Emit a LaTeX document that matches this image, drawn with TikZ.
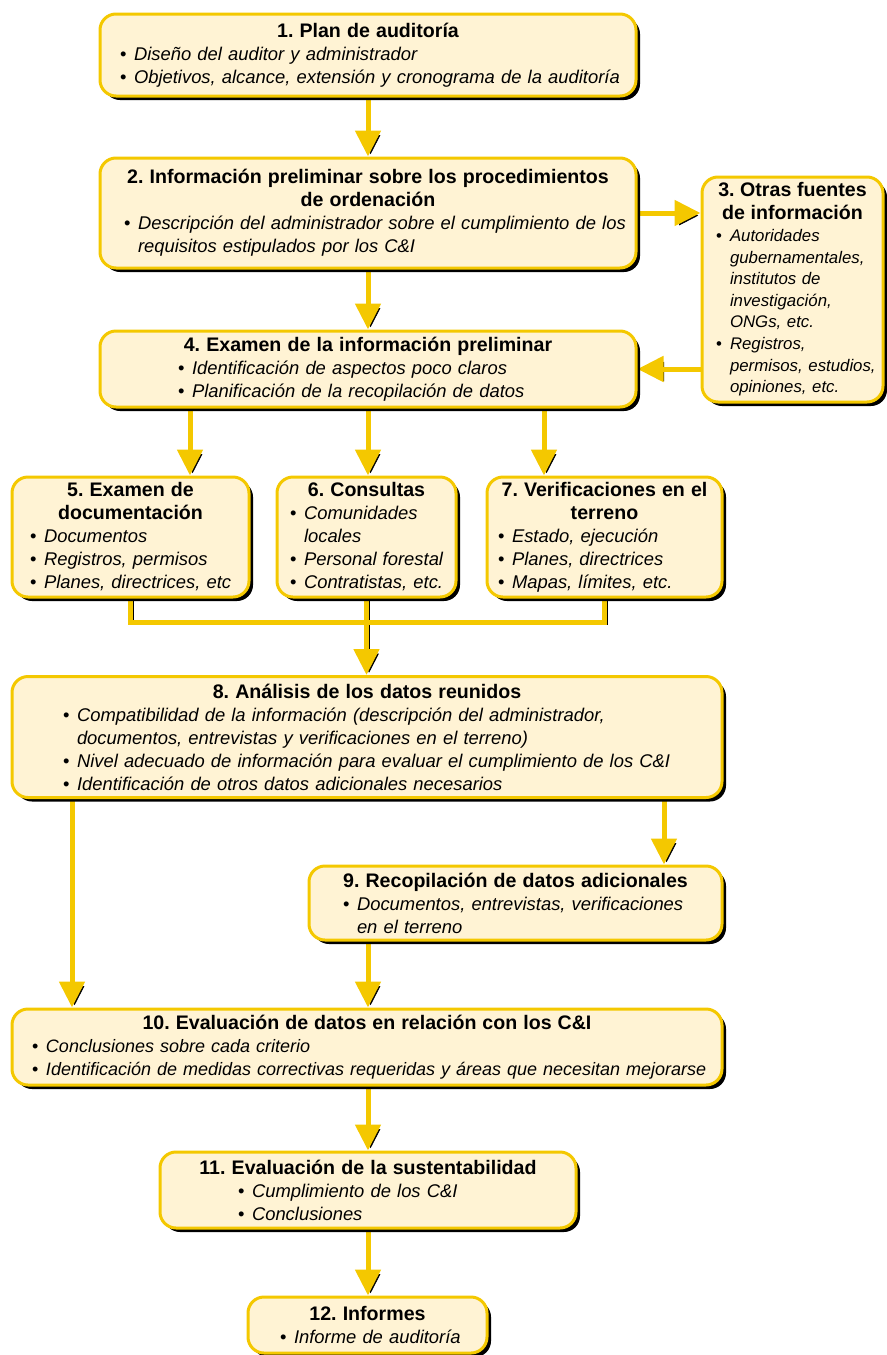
\documentclass[tikz,border=0pt]{standalone}
\usepackage{fontspec}
\setmainfont{Liberation Sans}
\usetikzlibrary{arrows.meta, shadows, backgrounds}
\definecolor{boxfill}{RGB}{255,243,212}
\definecolor{goldline}{RGB}{244,200,0}
\setlength{\parindent}{0pt}
\frenchspacing
% title line and bullet lines inside the boxes
\newcommand{\hd}[1]{{\centering\fontsize{9.8}{11.5}\selectfont\bfseries #1\par}}
\newcommand{\bul}[1]{\noindent\mbox{\makebox[7pt][l]{\textbullet}\textit{#1}}\par}
\newcommand{\cnt}[1]{\noindent\mbox{\hspace*{7pt}\textit{#1}}\par}

\begin{document}
\begin{tikzpicture}[x=0.5pt, y=-0.5pt,
  box/.style={draw=goldline, fill=boxfill, line width=1.5pt, rounded corners=8pt,
              inner xsep=0pt, inner ysep=2pt, align=left,
              font=\fontsize{9.2}{11.5}\selectfont,
              drop shadow={shadow xshift=2pt, shadow yshift=-2pt, fill=black, opacity=1}},
  flow/.style={draw=goldline, line width=2.5pt, -{Triangle[length=13pt, width=12.5pt]},
               preaction={draw=black, transform canvas={xshift=1.3pt, yshift=-1.3pt}}},
]
\useasboundingbox (0,0) rectangle (887,1355);

% columns and levels for the connectors
\coordinate (x5) at (190,0);
\coordinate (x7) at (544,0);
\coordinate (xl) at (72,0);
\coordinate (xr) at (664,0);
\coordinate (jn) at (0,622);

\node[box, text width=268pt, minimum height=41pt] (plan) at (368,55)
  {\hd{1. Plan de auditoría}\leftskip=10pt
   \bul{Diseño del auditor y administrador}
   \bul{Objetivos, alcance, extensión y cronograma de la auditoría}};

\node[box, text width=268pt, minimum height=55pt] (prelim) at (368,213)
  {\hd{2. Información preliminar sobre los procedimientos\\de ordenación}\leftskip=12pt
   \bul{Descripción del administrador sobre el cumplimiento de los}
   \cnt{requisitos estipulados por los C\&I}};

\node[box, text width=90.5pt, minimum height=112.5pt,
      font=\fontsize{8.4}{10.8}\selectfont] (otras) at (792.5,289.5)
  {\hd{3. Otras fuentes\\de información}\leftskip=7pt
   \bul{Autoridades}
   \cnt{gubernamentales,}
   \cnt{institutos de}
   \cnt{investigación,}
   \cnt{ONGs, etc.}
   \bul{Registros,}
   \cnt{permisos, estudios,}
   \cnt{opiniones, etc.}};

\node[box, text width=268pt, minimum height=38pt] (examen) at (368,369)
  {\hd{4. Examen de la información preliminar}\leftskip=39pt
   \bul{Identificación de aspectos poco claros}
   \bul{Planificación de la recopilación de datos}};

\node[box, text width=118.5pt, minimum height=60pt] (docs) at (130.5,537)
  {\hd{5. Examen de\\documentación}\leftskip=9pt
   \bul{Documentos}
   \bul{Registros, permisos}
   \bul{Planes, directrices, etc}};

\node[box, text width=89.5pt, minimum height=60pt] (consultas) at (366.5,537)
  {\hd{6. Consultas}\leftskip=6.5pt
   \bul{Comunidades}
   \cnt{locales}
   \bul{Personal forestal}
   \bul{Contratistas, etc.}};

\node[box, text width=117.5pt, minimum height=60pt] (terreno) at (604.5,537)
  {\hd{7. Verificaciones en el\\terreno}\leftskip=5.5pt
   \bul{Estado, ejecución}
   \bul{Planes, directrices}
   \bul{Mapas, límites, etc.}};

\node[box, text width=355pt, minimum height=60.5pt] (analisis) at (367,737)
  {\hd{8. Análisis de los datos reunidos}\leftskip=25.5pt
   \bul{Compatibilidad de la información (descripción del administrador,}
   \cnt{documentos, entrevistas y verificaciones en el terreno)}
   \bul{Nivel adecuado de información para evaluar el cumplimiento de los C\&I}
   \bul{Identificación de otros datos adicionales necesarios}};

\node[box, text width=206.5pt, minimum height=37pt] (recop) at (515.5,903)
  {\hd{9. Recopilación de datos adicionales}\leftskip=17pt
   \bul{Documentos, entrevistas, verificaciones}
   \cnt{en el terreno}};

\node[box, text width=355pt, minimum height=38pt,
      font=\fontsize{9}{11.5}\selectfont] (evaluacion) at (367,1047)
  {\hd{10. Evaluación de datos en relación con los C\&I}\leftskip=10pt
   \bul{Conclusiones sobre cada criterio}
   \bul{Identificación de medidas correctivas requeridas y áreas que necesitan mejorarse}};

\node[box, text width=208pt, minimum height=38pt] (sustent) at (368,1190)
  {\hd{11. Evaluación de la sustentabilidad}\leftskip=39pt
   \bul{Cumplimiento de los C\&I}
   \bul{Conclusiones}};

\node[box, text width=119.5pt, minimum height=28pt] (informes) at (367.5,1325)
  {\hd{12. Informes}\leftskip=16pt
   \bul{Informe de auditoría}};

\begin{scope}[on background layer]
\draw[flow] (plan) -- (prelim);
\draw[flow] (prelim.east) -- (prelim.east -| otras.west);
\draw[flow] (examen.east -| otras.west) -- (examen.east);
\draw[flow] (prelim) -- (examen);
\draw[flow] (examen.south -| x5) -- (docs.north -| x5);
\draw[flow] (examen.south) -- (examen.south |- consultas.north);
\draw[flow] (examen.south -| x7) -- (terreno.north -| x7);
\draw[flow] (docs.south) -- (docs.south |- jn) -- (terreno.south |- jn) -- (terreno.south)
            (consultas.south) -- (consultas.south |- analisis.north);
\draw[flow] (analisis.south -| xl) -- (evaluacion.north -| xl);
\draw[flow] (analisis.south -| xr) -- (recop.north -| xr);
\draw[flow] (recop.south -| plan.south) -- (evaluacion.north -| plan.south);
\draw[flow] (evaluacion.south -| sustent.south) -- (sustent.north);
\draw[flow] (sustent.south) -- (sustent.south |- informes.north);
\end{scope}
\end{tikzpicture}
\end{document}
